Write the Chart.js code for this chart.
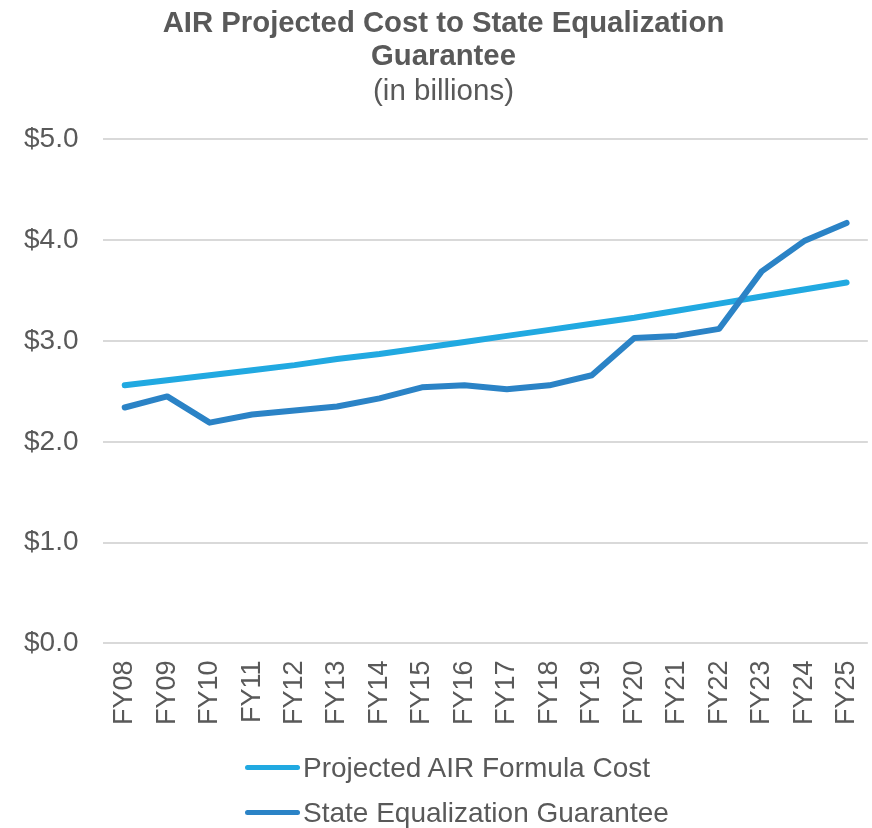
<!DOCTYPE html>
<html>
<head>
<meta charset="utf-8">
<script src="https://cdn.jsdelivr.net/npm/chart.js@4/dist/chart.umd.min.js"></script>
<style>
  html, body { margin: 0; padding: 0; background: #fff; overflow: hidden; }
  #wrap { position: relative; width: 872px; height: 828px; overflow: hidden; font-family: "Liberation Sans", Arial, sans-serif; color: #595959; }
  #box { position: absolute; left: 0; top: 0; width: 888px; height: 751px; }
  .legend { position: absolute; left: 245px; top: 747px; }
  .legend div { height: 45px; line-height: 42px; font-size: 28px; white-space: nowrap; }
  .legend span { display: inline-block; width: 55px; height: 5px; border-radius: 3px; vertical-align: middle; margin-right: 3px; position: relative; top: -2px; }
</style>
</head>
<body>
<div id="wrap">
  <div id="box"><canvas id="airChart"></canvas></div>
  <div class="legend" id="legend"></div>
</div>
<script>
(function () {
  // === Data ===
  const years = ["FY08","FY09","FY10","FY11","FY12","FY13","FY14","FY15","FY16",
                 "FY17","FY18","FY19","FY20","FY21","FY22","FY23","FY24","FY25"];
  const projectedCost = [2.56,2.61,2.66,2.71,2.76,2.82,2.87,2.93,2.99,
                         3.05,3.11,3.17,3.23,3.30,3.37,3.44,3.51,3.58];
  const stateGuarantee = [2.34,2.45,2.19,2.27,2.31,2.35,2.43,2.54,2.56,
                          2.52,2.56,2.66,3.03,3.05,3.12,3.69,3.99,4.17];
  const seriesNames = ["Projected AIR Formula Cost", "State Equalization Guarantee"];
  const seriesColors = ["#21a9e1", "#2b83c6"];

  const textColor = "#595959";
  const fontFamily = "'Liberation Sans', Arial, sans-serif";

  new Chart(document.getElementById("airChart"), {
    type: "line",
    data: {
      labels: years,
      datasets: [
        { label: seriesNames[0], data: projectedCost, borderColor: seriesColors[0],
          borderWidth: 6, pointRadius: 0, tension: 0, borderCapStyle: "round", order: 1 },
        { label: seriesNames[1], data: stateGuarantee, borderColor: seriesColors[1],
          borderWidth: 6, pointRadius: 0, tension: 0, borderCapStyle: "round",
          borderJoinStyle: "round", order: 0 }
      ]
    },
    options: {
      responsive: true,
      maintainAspectRatio: false,
      animation: false,
      layout: { padding: { left: -1, right: 0, top: 0, bottom: 17 } },
      plugins: {
        legend: { display: false },
        tooltip: { enabled: false },
        title: {
          display: true,
          text: ["AIR Projected Cost to State Equalization", "Guarantee"],
          color: textColor,
          font: { family: fontFamily, size: 29.3, weight: "bold", lineHeight: 1.13 },
          padding: { top: 7, bottom: 2 }
        },
        subtitle: {
          display: true,
          text: "(in billions)",
          color: textColor,
          font: { family: fontFamily, size: 29.5, lineHeight: 1.12 },
          padding: { top: 0, bottom: 31 }
        }
      },
      scales: {
        x: {
          offset: true,
          grid: { display: false },
          border: { display: false },
          ticks: {
            color: textColor, font: { family: fontFamily, size: 27 },
            minRotation: 90, maxRotation: 90, padding: 9, autoSkip: false
          }
        },
        y: {
          min: 0, max: 5,
          grid: { color: "#d9d9d9", lineWidth: 2, drawTicks: false },
          border: { display: false },
          ticks: {
            stepSize: 1, padding: 25, color: textColor,
            font: { family: fontFamily, size: 28 },
            callback: v => "$" + v.toFixed(1)
          }
        }
      }
    }
  });

  // === Legend (stacked rows, left aligned) ===
  const legendEl = document.getElementById("legend");
  seriesNames.forEach((name, i) => {
    const row = document.createElement("div");
    row.innerHTML = `<span style="background:${seriesColors[i]}"></span>${name}`;
    legendEl.appendChild(row);
  });
})();
</script>
</body>
</html>
